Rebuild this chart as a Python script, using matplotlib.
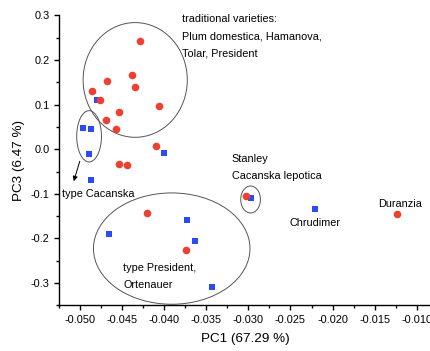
import matplotlib
matplotlib.use("Agg")
import matplotlib.pyplot as plt
from matplotlib.patches import Ellipse
from matplotlib.ticker import MultipleLocator

plt.rcParams['font.family'] = ['Liberation Sans', 'DejaVu Sans']

# red circles (PC1, PC3)
red_x = [-0.0429, -0.0438, -0.0468, -0.04345, -0.0486, -0.0476, -0.0406, -0.0454,
         -0.0469, -0.0457, -0.0410, -0.0454, -0.0444, -0.0420, -0.0374, -0.0303, -0.0123]
red_y = [0.243, 0.1666, 0.153, 0.139, 0.130, 0.110, 0.0964, 0.0837,
         0.0657, 0.0455, 0.0083, -0.033, -0.036, -0.1428, -0.2265, -0.1054, -0.1442]
# blue squares
blue_x = [-0.0480, -0.0496, -0.0487, -0.0490, -0.0400, -0.0487, -0.0373, -0.04655,
          -0.0363, -0.0343, -0.0297, -0.0221]
blue_y = [0.110, 0.0486, 0.0455, -0.0112, -0.0074, -0.0688, -0.1577, -0.1906,
          -0.2047, -0.3087, -0.1092, -0.133]

# group ellipses: centre x, centre y, width, height
ell_cx = [-0.04345, -0.04893, -0.03911, -0.02974]
ell_cy = [0.1554, 0.0291, -0.2227, -0.1126]
ell_w = [0.01238, 0.00294, 0.0186, 0.00234]
ell_h = [0.2572, 0.115, 0.2496, 0.0605]

labels = ["traditional varieties:", "Plum domestica, Hamanova,", "Tolar, President",
          "Stanley", "Cacanska lepotica", "type Cacanska", "type President,",
          "Ortenauer", "Chrudimer", "Duranzia"]
label_x = [-0.0379, -0.0379, -0.0379, -0.0320, -0.0320, -0.0522, -0.0449,
           -0.0449, -0.0251, -0.0146]
label_y = [0.2843, 0.2468, 0.2071, -0.0276, -0.0657, -0.107, -0.273,
           -0.311, -0.1728, -0.1295]

fig = plt.figure(figsize=(4.31, 3.51), dpi=100)
ax = fig.add_axes([0.137, 0.130, 0.863, 0.826])

for cx, cy, w, h in zip(ell_cx, ell_cy, ell_w, ell_h):
    ax.add_patch(Ellipse((cx, cy), w, h, fill=False, ec="#555555", lw=0.7, zorder=1))

ax.scatter(blue_x, blue_y, marker="s", s=20, color="#2B4BF5", linewidths=0, zorder=2)
ax.scatter(red_x, red_y, marker="o", s=30, color="#EE4030", linewidths=0, zorder=3)

for t, x, y in zip(labels, label_x, label_y):
    ax.text(x, y, t, fontsize=7.8, ha="left", va="baseline")

ax.annotate("", xy=(-0.05075, -0.0717), xytext=(-0.05004, -0.0269),
            arrowprops=dict(arrowstyle="-|>", color="black", lw=0.7,
                            mutation_scale=7, shrinkA=0, shrinkB=0))

ax.set_xlim(-0.0525, -0.0083)
ax.set_ylim(-0.35, 0.3)
ax.xaxis.set_major_locator(MultipleLocator(0.005))
ax.xaxis.set_minor_locator(MultipleLocator(0.0025))
ax.yaxis.set_major_locator(MultipleLocator(0.1))
ax.yaxis.set_minor_locator(MultipleLocator(0.05))
ax.xaxis.set_major_formatter(plt.FuncFormatter(lambda v, p: "{:.3f}".format(v)))
ax.yaxis.set_major_formatter(plt.FuncFormatter(lambda v, p: "{:.1f}".format(v)))

for s in ["top", "right"]:
    ax.spines[s].set_visible(False)
for s in ["left", "bottom"]:
    ax.spines[s].set_linewidth(1.0)
ax.tick_params(which="major", direction="out", length=3.8, width=1.0, labelsize=7.9, pad=3)
ax.tick_params(which="minor", direction="out", length=2, width=1.0)

ax.set_xlabel("PC1 (67.29 %)", fontsize=9.7, labelpad=6)
ax.set_ylabel("PC3 (6.47 %)", fontsize=9.7, labelpad=4)

fig.savefig("out.png", dpi=100)
